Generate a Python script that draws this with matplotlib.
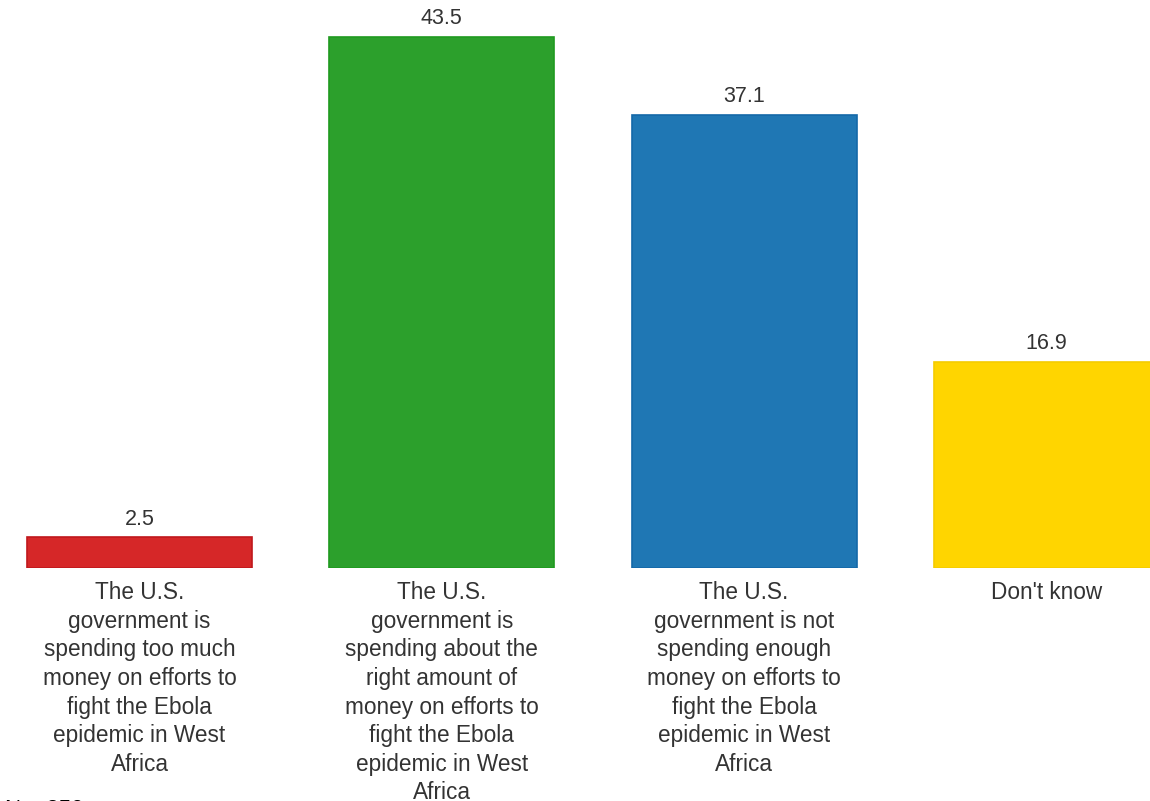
import matplotlib
matplotlib.use("Agg")
import matplotlib.pyplot as plt

plt.rcParams['font.family'] = ['Liberation Sans', 'DejaVu Sans']

categories = [
    "The U.S.\ngovernment is\nspending too much\nmoney on efforts to\nfight the Ebola\nepidemic in West\nAfrica",
    "The U.S.\ngovernment is\nspending about the\nright amount of\nmoney on efforts to\nfight the Ebola\nepidemic in West\nAfrica",
    "The U.S.\ngovernment is not\nspending enough\nmoney on efforts to\nfight the Ebola\nepidemic in West\nAfrica",
    "Don't know",
]
values = [2.5, 43.5, 37.1, 16.9]
colors = ["#d62728", "#2ca02c", "#1f77b4", "#ffd500"]
edges = ["#c0181c", "#1f9a1f", "#1468a8", "#f5cc00"]
note = "N = 250"

W, H = 1150, 801
fig = plt.figure(figsize=(W / 100, H / 100), dpi=100)
base_px = 568
ax = fig.add_axes([0, (H - base_px) / H, 1, base_px / H])

px_per_unit = 302.3
x = list(range(len(values)))
ax.bar(x, values, width=225 / px_per_unit, color=colors, edgecolor=edges, linewidth=1.2)
ax.set_xlim(-139.5 / px_per_unit, (W - 139.5) / px_per_unit)
ax.set_ylim(0, base_px / 12.21)

text_color = "#333333"
for xi, v in zip(x, values):
    ax.annotate(f"{v}", (xi, v), xytext=(0, 5.5), textcoords="offset points",
                ha="center", va="bottom", fontsize=15.5, color=text_color)

ax.set_xticks(x)
ax.set_xticklabels(categories, fontsize=16.3, color=text_color, linespacing=1.31)
ax.tick_params(axis="x", length=0, pad=9.5)
ax.set_yticks([])
for s in ax.spines.values():
    s.set_visible(False)

fig.text(0.004, -0.018, note, fontsize=16, color="#000000", ha="left", va="baseline")

fig.savefig("out.png", dpi=100)
